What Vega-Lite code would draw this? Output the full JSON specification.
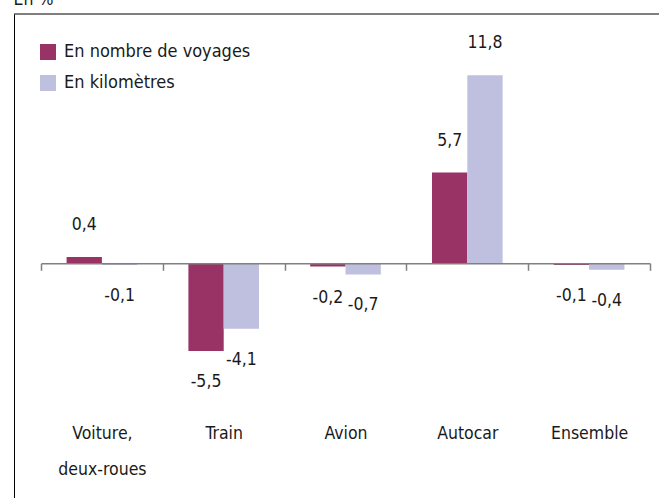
{
  "$schema": "https://vega.github.io/schema/vega-lite/v6.json",
  "width": 645,
  "height": 484,
  "padding": {"left": 14, "top": 14, "right": 0, "bottom": 0},
  "autosize": {"type": "none"},
  "config": {
    "view": {"stroke": null},
    "font": "DejaVu Sans Condensed",
    "locale": {"number": {"decimal": ",", "thousands": " ", "grouping": [3], "currency": ["", " €"], "minus": "-"}}
  },
  "data": {"values": [
    {"mode": "Voiture, deux-roues", "serie": "En nombre de voyages", "v": 0.4},
    {"mode": "Voiture, deux-roues", "serie": "En kilomètres", "v": -0.1},
    {"mode": "Train", "serie": "En nombre de voyages", "v": -5.5},
    {"mode": "Train", "serie": "En kilomètres", "v": -4.1},
    {"mode": "Avion", "serie": "En nombre de voyages", "v": -0.2},
    {"mode": "Avion", "serie": "En kilomètres", "v": -0.7},
    {"mode": "Autocar", "serie": "En nombre de voyages", "v": 5.7},
    {"mode": "Autocar", "serie": "En kilomètres", "v": 11.8},
    {"mode": "Ensemble", "serie": "En nombre de voyages", "v": -0.1},
    {"mode": "Ensemble", "serie": "En kilomètres", "v": -0.4}
  ]},
  "layer": [
    {
      "mark": {"type": "bar"},
      "encoding": {
        "x": {"field": "mode", "type": "nominal", "sort": null,
          "scale": {"range": [27, 636], "paddingInner": 0, "paddingOuter": 0},
          "axis": {"title": null, "tickBand": "extent", "domainColor": "#808080", "domainWidth": 1.5, "tickColor": "#808080", "tickSize": 7, "tickWidth": 1.5,
            "labelFontSize": 17.5, "labelColor": "#1a1a1a", "labelAngle": 0, "labelBaseline": "alphabetic", "labelPadding": 167.7, "labelLineHeight": 36,
            "offset": -234.7, "zindex": 1,
            "labelExpr": "datum.label == 'Voiture, deux-roues' ? ['Voiture,', 'deux-roues'] : datum.label"}},
        "xOffset": {"field": "serie", "type": "nominal", "scale": {"domain": ["En nombre de voyages", "En kilomètres"], "paddingOuter": 0.725, "paddingInner": 0}},
        "y": {"field": "v", "type": "quantitative", "scale": {"domain": [-14.73, 15.65], "nice": false, "zero": false},
          "axis": {"title": "En %", "titleAngle": 0, "titleX": -1, "titleY": -10, "titleAlign": "left", "titleBaseline": "alphabetic",
            "titleFontSize": 17.5, "titleFontWeight": "normal", "titleColor": "#1a1a1a",
            "labels": false, "ticks": false, "grid": false, "domain": true, "domainColor": "#000000", "domainWidth": 1}},
        "color": {"field": "serie", "type": "nominal",
          "scale": {"domain": ["En nombre de voyages", "En kilomètres"], "range": ["#993366", "#BFBFDF"]},
          "legend": {"orient": "none", "legendX": 25, "legendY": 29, "title": null, "symbolType": "square", "symbolSize": 256, "symbolStrokeWidth": 0,
            "labelFontSize": 18, "labelColor": "#1a1a1a", "rowPadding": 13, "labelOffset": 7, "labelLimit": 400}}
      }
    },
    {
      "transform": [{"filter": "datum.v > 0"}],
      "mark": {"type": "text", "dy": -32, "baseline": "middle", "align": "center", "fontSize": 17.5, "color": "#1a1a1a"},
      "encoding": {
        "x": {"field": "mode", "type": "nominal", "sort": null},
        "xOffset": {"field": "serie", "type": "nominal"},
        "y": {"field": "v", "type": "quantitative"},
        "text": {"field": "v", "type": "quantitative", "format": ".1f"}
      }
    },
    {
      "transform": [{"filter": "datum.v < 0"}],
      "mark": {"type": "text", "dy": 31, "baseline": "middle", "align": "center", "fontSize": 17.5, "color": "#1a1a1a"},
      "encoding": {
        "x": {"field": "mode", "type": "nominal", "sort": null},
        "xOffset": {"field": "serie", "type": "nominal"},
        "y": {"field": "v", "type": "quantitative"},
        "text": {"field": "v", "type": "quantitative", "format": ".1f"}
      }
    },
    {
      "data": {"values": [{"top": 15.65}]},
      "mark": {"type": "rule", "color": "#000000", "strokeWidth": 1},
      "encoding": {"y": {"field": "top", "type": "quantitative"}}
    }
  ]
}
